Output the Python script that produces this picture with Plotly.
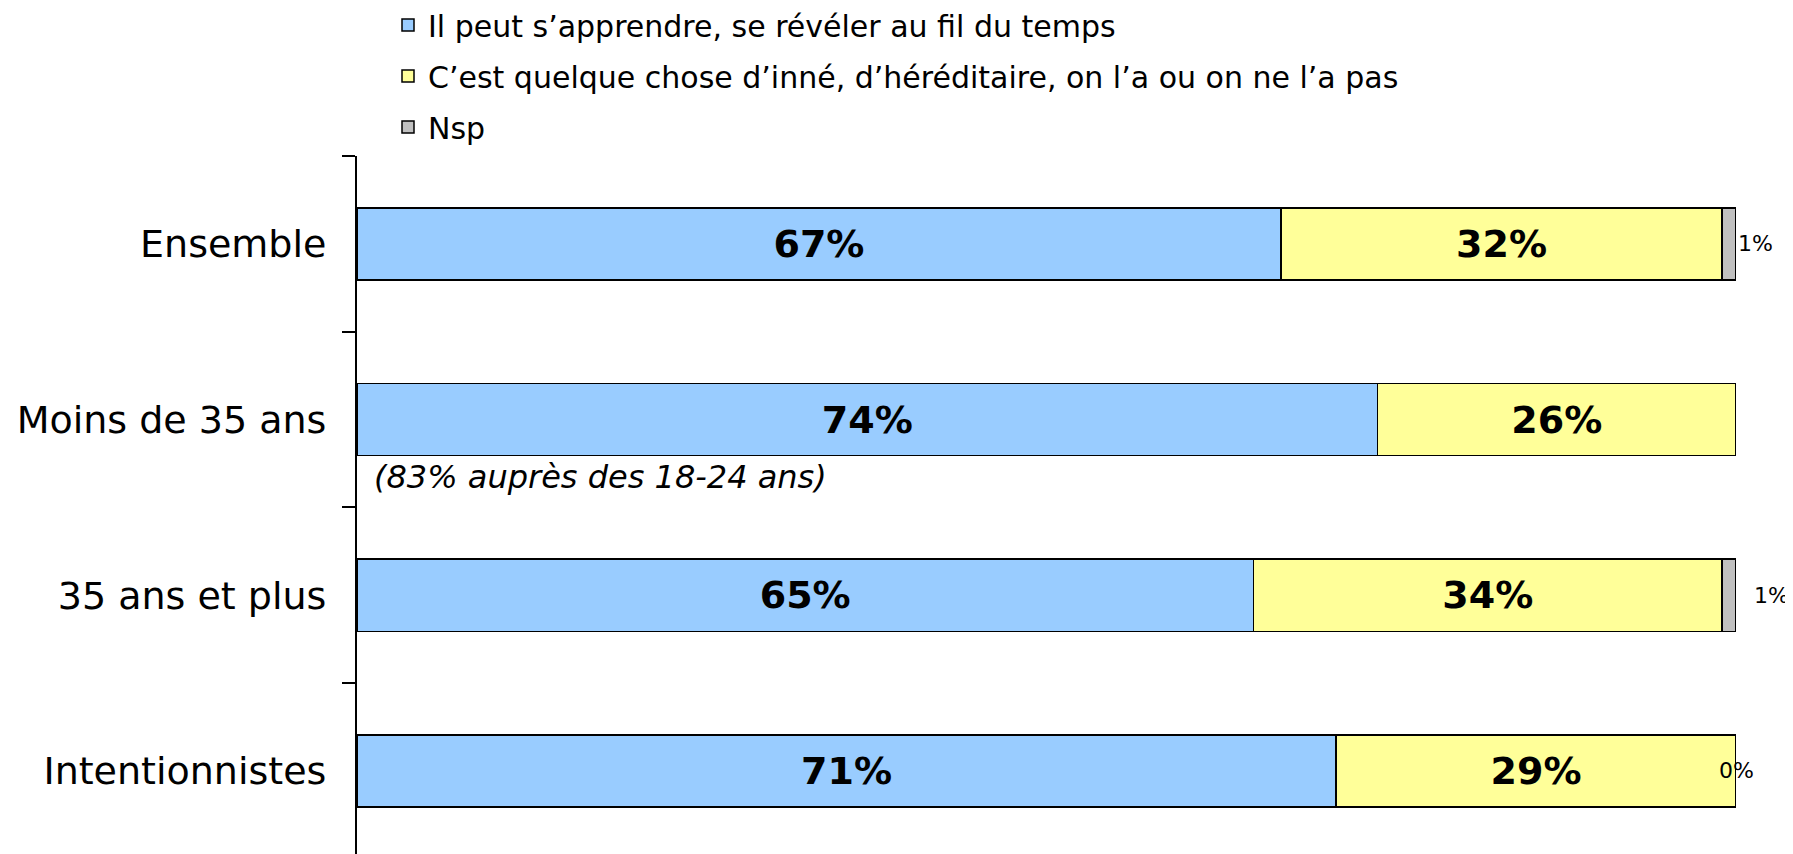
import plotly.graph_objects as go

categories = ["Ensemble", "Moins de 35 ans", "35 ans et plus", "Intentionnistes"]
series_names = [
    "Il peut s’apprendre, se révéler au fil du temps",
    "C’est quelque chose d’inné, d’héréditaire, on l’a ou on ne l’a pas",
    "Nsp",
]
apprendre = [67, 74, 65, 71]
inne = [32, 26, 34, 29]
nsp = [1, 0, 1, 0]
nsp_labels = ["1%", "", "1%", "0%"]
nsp_label_shift = [0, None, 16, None]  # None -> centered on the bar end
note_text = "(83% auprès des 18-24 ans)"
colors = ["#99CCFF", "#FFFF99", "#C0C0C0"]

FONT = "DejaVu Sans"
fig = go.Figure()
for i, (name, vals, col) in enumerate(zip(series_names, [apprendre, inne, nsp], colors)):
    show_text = i < 2
    fig.add_trace(go.Bar(
        y=categories, x=vals, name=name, orientation="h",
        marker=dict(color=col, line=dict(color="#000000", width=1.5)),
        width=0.41,
        text=[f"{v}%" for v in vals] if show_text else None,
        textposition="inside" if show_text else "none",
        insidetextanchor="middle",
        textangle=0,
        textfont=dict(family=FONT, size=38, color="#000000", weight="bold"),
        legendgroup=f"g{i}",
        hoverinfo="skip",
    ))

totals = [a + b + c for a, b, c in zip(apprendre, inne, nsp)]
for cat, tot, lab, sh in zip(categories, totals, nsp_labels, nsp_label_shift):
    if not lab:
        continue
    fig.add_annotation(
        x=tot, y=cat, xref="x", yref="y", text=lab, showarrow=False,
        xanchor="left" if sh is not None else "center",
        xshift=sh if sh is not None else 0,
        font=dict(family=FONT, size=22, color="#000000"),
    )

fig.add_annotation(
    x=0, y=categories[1], xref="x", yref="y", text=note_text, showarrow=False,
    xanchor="left", xshift=15, yshift=-57,
    font=dict(family=FONT, size=32, color="#000000", style="italic"),
)

M_L, M_T, M_R = 349, 148, 65
plot_h = 854 - M_T
fig.update_layout(
    width=1793, height=854,
    barmode="stack",
    plot_bgcolor="white", paper_bgcolor="white",
    margin=dict(l=M_L, r=M_R, t=M_T, b=0, autoexpand=False),
    showlegend=True,
    legend=dict(
        xref="container", yref="paper", x=380 / 1793, y=1 + (M_T + 9) / plot_h,
        xanchor="left", yanchor="top",
        font=dict(family=FONT, size=30, color="#000000"),
        traceorder="grouped", tracegroupgap=9,
        bgcolor="rgba(0,0,0,0)",
    ),
    xaxis=dict(range=[0, 100], visible=False, fixedrange=True),
    yaxis=dict(
        categoryorder="array", categoryarray=categories,
        range=[-0.5 + plot_h / 175.7, -0.5],
        showline=True, linecolor="#000000", linewidth=2,
        ticks="outside", tickson="boundaries", ticklen=13, tickwidth=2, tickcolor="#000000",
        showgrid=False, zeroline=False,
        tickfont=dict(family=FONT, size=38, color="#000000"),
        ticklabelstandoff=21,
    ),
    font=dict(family=FONT),
)

fig.write_html("out.html")
